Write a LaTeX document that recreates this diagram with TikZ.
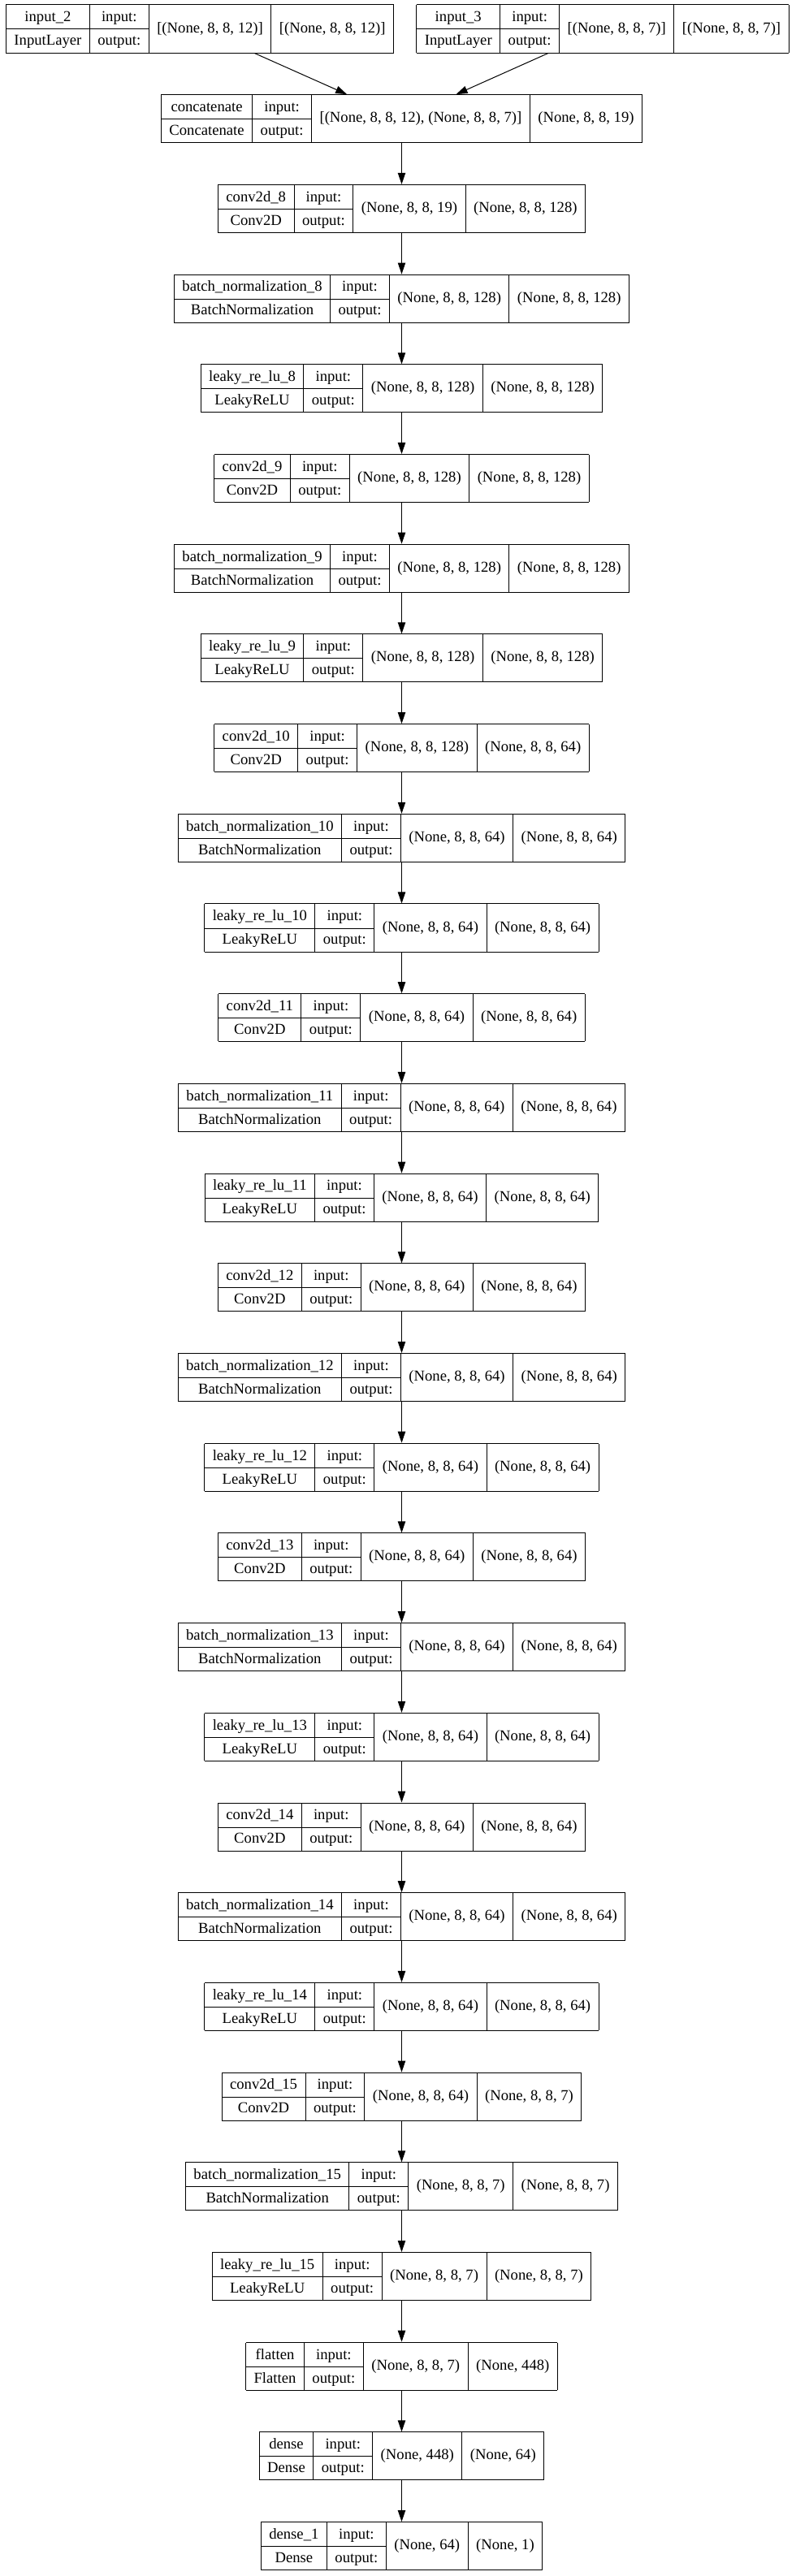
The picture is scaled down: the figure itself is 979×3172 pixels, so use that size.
\documentclass[tikz,border=0pt]{standalone}
\usepackage{fontspec}
\usepackage{multirow}
\setmainfont{Liberation Serif}
\usetikzlibrary{arrows.meta}

% one layer box: name, class, input shape, output shape
\newcommand{\layertab}[4]{%
  \renewcommand{\arraystretch}{1.28}%
  \setlength{\tabcolsep}{7.5pt}%
  \setlength{\arrayrulewidth}{0.75pt}%
  \begin{tabular}{|c|c|c|c|}\hline
    #1 & input: & \multirow{2}{*}{#3} & \multirow{2}{*}{#4}\\ \cline{1-2}
    #2 & output: & & \\ \hline
  \end{tabular}}

\begin{document}
\begin{tikzpicture}[x=0.75pt,y=0.75pt,yscale=-1,xscale=1,
  layer/.style={inner sep=0pt,outer sep=0pt,font=\fontsize{14}{17}\selectfont},
  link/.style={line width=0.75pt,-{Triangle[length=10.5pt,width=7pt]}}]
  \useasboundingbox (0,0) rectangle (979,3172);

  % Layer Node
  \draw (246,35.5) node [layer] (input2) {\layertab{input\_2}{InputLayer}{[(None, 8, 8, 12)]}{[(None, 8, 8, 12)]}};
  % Layer Node
  \draw (742,35.5) node [layer] (input3) {\layertab{input\_3}{InputLayer}{[(None, 8, 8, 7)]}{[(None, 8, 8, 7)]}};
  % Layer Node
  \draw (494.5,146.2) node [layer] (concat) {\layertab{concatenate}{Concatenate}{[(None, 8, 8, 12), (None, 8, 8, 7)]}{(None, 8, 8, 19)}};
  % Layer Node
  \draw (494.5,256.9) node [layer] (conv8) {\layertab{conv2d\_8}{Conv2D}{(None, 8, 8, 19)}{(None, 8, 8, 128)}};
  % Layer Node
  \draw (494.5,367.6) node [layer] (bn8) {\layertab{batch\_normalization\_8}{BatchNormalization}{(None, 8, 8, 128)}{(None, 8, 8, 128)}};
  % Layer Node
  \draw (494.5,478.3) node [layer] (relu8) {\layertab{leaky\_re\_lu\_8}{LeakyReLU}{(None, 8, 8, 128)}{(None, 8, 8, 128)}};
  % Layer Node
  \draw (494.5,589) node [layer] (conv9) {\layertab{conv2d\_9}{Conv2D}{(None, 8, 8, 128)}{(None, 8, 8, 128)}};
  % Layer Node
  \draw (494.5,699.7) node [layer] (bn9) {\layertab{batch\_normalization\_9}{BatchNormalization}{(None, 8, 8, 128)}{(None, 8, 8, 128)}};
  % Layer Node
  \draw (494.5,810.4) node [layer] (relu9) {\layertab{leaky\_re\_lu\_9}{LeakyReLU}{(None, 8, 8, 128)}{(None, 8, 8, 128)}};
  % Layer Node
  \draw (494.5,921.1) node [layer] (conv10) {\layertab{conv2d\_10}{Conv2D}{(None, 8, 8, 128)}{(None, 8, 8, 64)}};
  % Layer Node
  \draw (494.5,1031.8) node [layer] (bn10) {\layertab{batch\_normalization\_10}{BatchNormalization}{(None, 8, 8, 64)}{(None, 8, 8, 64)}};
  % Layer Node
  \draw (494.5,1142.5) node [layer] (relu10) {\layertab{leaky\_re\_lu\_10}{LeakyReLU}{(None, 8, 8, 64)}{(None, 8, 8, 64)}};
  % Layer Node
  \draw (494.5,1253.2) node [layer] (conv11) {\layertab{conv2d\_11}{Conv2D}{(None, 8, 8, 64)}{(None, 8, 8, 64)}};
  % Layer Node
  \draw (494.5,1363.9) node [layer] (bn11) {\layertab{batch\_normalization\_11}{BatchNormalization}{(None, 8, 8, 64)}{(None, 8, 8, 64)}};
  % Layer Node
  \draw (494.5,1474.6) node [layer] (relu11) {\layertab{leaky\_re\_lu\_11}{LeakyReLU}{(None, 8, 8, 64)}{(None, 8, 8, 64)}};
  % Layer Node
  \draw (494.5,1585.3) node [layer] (conv12) {\layertab{conv2d\_12}{Conv2D}{(None, 8, 8, 64)}{(None, 8, 8, 64)}};
  % Layer Node
  \draw (494.5,1696) node [layer] (bn12) {\layertab{batch\_normalization\_12}{BatchNormalization}{(None, 8, 8, 64)}{(None, 8, 8, 64)}};
  % Layer Node
  \draw (494.5,1806.7) node [layer] (relu12) {\layertab{leaky\_re\_lu\_12}{LeakyReLU}{(None, 8, 8, 64)}{(None, 8, 8, 64)}};
  % Layer Node
  \draw (494.5,1917.4) node [layer] (conv13) {\layertab{conv2d\_13}{Conv2D}{(None, 8, 8, 64)}{(None, 8, 8, 64)}};
  % Layer Node
  \draw (494.5,2028.1) node [layer] (bn13) {\layertab{batch\_normalization\_13}{BatchNormalization}{(None, 8, 8, 64)}{(None, 8, 8, 64)}};
  % Layer Node
  \draw (494.5,2138.8) node [layer] (relu13) {\layertab{leaky\_re\_lu\_13}{LeakyReLU}{(None, 8, 8, 64)}{(None, 8, 8, 64)}};
  % Layer Node
  \draw (494.5,2249.5) node [layer] (conv14) {\layertab{conv2d\_14}{Conv2D}{(None, 8, 8, 64)}{(None, 8, 8, 64)}};
  % Layer Node
  \draw (494.5,2360.2) node [layer] (bn14) {\layertab{batch\_normalization\_14}{BatchNormalization}{(None, 8, 8, 64)}{(None, 8, 8, 64)}};
  % Layer Node
  \draw (494.5,2470.9) node [layer] (relu14) {\layertab{leaky\_re\_lu\_14}{LeakyReLU}{(None, 8, 8, 64)}{(None, 8, 8, 64)}};
  % Layer Node
  \draw (494.5,2581.6) node [layer] (conv15) {\layertab{conv2d\_15}{Conv2D}{(None, 8, 8, 64)}{(None, 8, 8, 7)}};
  % Layer Node
  \draw (494.5,2692.3) node [layer] (bn15) {\layertab{batch\_normalization\_15}{BatchNormalization}{(None, 8, 8, 7)}{(None, 8, 8, 7)}};
  % Layer Node
  \draw (494.5,2803) node [layer] (relu15) {\layertab{leaky\_re\_lu\_15}{LeakyReLU}{(None, 8, 8, 7)}{(None, 8, 8, 7)}};
  % Layer Node
  \draw (494.5,2913.7) node [layer] (flat) {\layertab{flatten}{Flatten}{(None, 8, 8, 7)}{(None, 448)}};
  % Layer Node
  \draw (494.5,3024.4) node [layer] (dense) {\layertab{dense}{Dense}{(None, 448)}{(None, 64)}};
  % Layer Node
  \draw (494.5,3135.1) node [layer] (dense1) {\layertab{dense\_1}{Dense}{(None, 64)}{(None, 1)}};

  %Straight Lines
  \draw [link] (input2) -- (concat);
  \draw [link] (input3) -- (concat);
  \draw [link] (concat) -- (conv8);
  \draw [link] (conv8) -- (bn8);
  \draw [link] (bn8) -- (relu8);
  \draw [link] (relu8) -- (conv9);
  \draw [link] (conv9) -- (bn9);
  \draw [link] (bn9) -- (relu9);
  \draw [link] (relu9) -- (conv10);
  \draw [link] (conv10) -- (bn10);
  \draw [link] (bn10) -- (relu10);
  \draw [link] (relu10) -- (conv11);
  \draw [link] (conv11) -- (bn11);
  \draw [link] (bn11) -- (relu11);
  \draw [link] (relu11) -- (conv12);
  \draw [link] (conv12) -- (bn12);
  \draw [link] (bn12) -- (relu12);
  \draw [link] (relu12) -- (conv13);
  \draw [link] (conv13) -- (bn13);
  \draw [link] (bn13) -- (relu13);
  \draw [link] (relu13) -- (conv14);
  \draw [link] (conv14) -- (bn14);
  \draw [link] (bn14) -- (relu14);
  \draw [link] (relu14) -- (conv15);
  \draw [link] (conv15) -- (bn15);
  \draw [link] (bn15) -- (relu15);
  \draw [link] (relu15) -- (flat);
  \draw [link] (flat) -- (dense);
  \draw [link] (dense) -- (dense1);

\end{tikzpicture}
\end{document}
